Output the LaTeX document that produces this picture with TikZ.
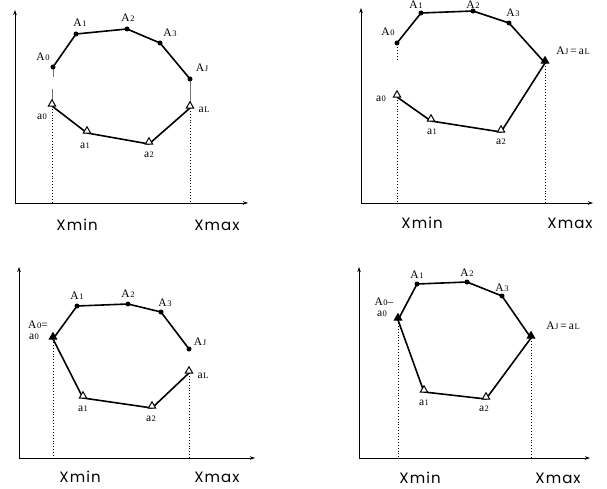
\documentclass[tikz,border=0pt]{standalone}
\usepackage{fontspec}
\setmainfont{Liberation Serif}
\newfontfamily\axfont[LetterSpace=7]{Poppins}
\usetikzlibrary{shapes.geometric,arrows.meta}
\newcommand\Lb[2]{#1\kern0.6pt{\fontsize{8.5}{9}\selectfont #2}}
\begin{document}
\begin{tikzpicture}[x=1pt,y=-1pt,
 axis/.style={line width=0.8pt,{Stealth[length=5pt,width=3.5pt]}-{Stealth[length=5pt,width=3.5pt]}},
 poly/.style={line width=1.6pt,line join=round},
 guide/.style={dotted,line width=0.9pt},
 faint/.style={line width=0.5pt,black!55},
 ptdot/.style={circle,fill=black,inner sep=0pt,minimum size=5pt},
 otri/.style={regular polygon,regular polygon sides=3,draw,line width=1pt,fill=white,inner sep=0pt,minimum size=8.5pt,yshift=2pt},
 ftri/.style={otri,fill=black},
 lab/.style={inner sep=0pt,text height=8pt,text depth=0pt,font=\fontsize{11.5}{13}\selectfont},
 axlab/.style={inner sep=0pt,font=\fontsize{15}{17}\selectfont\axfont}]
\useasboundingbox (0,0) rectangle (607,489);

% ---------------- panel 1 ----------------
\coordinate (o1) at (15,203);
\coordinate (y1) at (15,10);
\coordinate (x1) at (248,203);
\draw[axis] (y1) -- (o1) -- (x1);
\coordinate (P1A0) at (53,67);
\coordinate (P1A1) at (76,34);
\coordinate (P1A2) at (127,29);
\coordinate (P1A3) at (160,43);
\coordinate (P1AJ) at (190,79);
\coordinate (P1a0) at (52,106);
\coordinate (P1a1) at (87,133);
\coordinate (P1a2) at (149,144);
\coordinate (P1aL) at (190,108);
\draw[faint] (P1A0) -- ++(0,10) (P1a0) ++(0,-3) -- ++(0,-14);
\draw[faint] (P1AJ) -- (P1aL);
\draw[guide] (P1a0) -- (P1a0 |- o1);
\draw[guide] (P1aL) -- (P1aL |- o1);
\draw[poly] (P1A0) -- (P1A1) -- (P1A2) -- (P1A3) -- (P1AJ);
\draw[poly] (P1a0) -- (P1a1) -- (P1a2) -- (P1aL);
\foreach \n in {A0,A1,A2,A3,AJ} \node[ptdot] (M1\n) at (P1\n) {};
\foreach \n in {a0,a1,a2,aL} \node[otri] (M1\n) at (P1\n) {};
\node[lab] (L1A0) at (43,57) {\Lb{A}{0}};
\node[lab] (L1A1) at (80,23) {\Lb{A}{1}};
\node[lab] (L1A2) at (128,18) {\Lb{A}{2}};
\node[lab] (L1A3) at (170,33) {\Lb{A}{3}};
\node[lab] (L1AJ) at (202,68) {\Lb{A}{J}};
\node[lab] (L1a0) at (42,116) {\Lb{a}{0}};
\node[lab] (L1a1) at (85,145) {\Lb{a}{1}};
\node[lab] (L1a2) at (149,154) {\Lb{a}{2}};
\node[lab] (L1aL) at (204,109) {\Lb{a}{L}};
\node[axlab] (X1a) at (77,225) {Xmin};
\node[axlab] (X1b) at (217,225) {Xmax};

% ---------------- panel 2 ----------------
\coordinate (o2) at (361,203);
\coordinate (y2) at (361,8);
\coordinate (x2) at (593,203);
\draw[axis] (y2) -- (o2) -- (x2);
\coordinate (P2A0) at (397,43);
\coordinate (P2A1) at (421,13);
\coordinate (P2A2) at (473,11);
\coordinate (P2A3) at (509,23);
\coordinate (P2AJ) at (545,63);
\coordinate (P2a0) at (397,97);
\coordinate (P2a1) at (431,121);
\coordinate (P2a2) at (501,132);
\draw[guide] (P2A0) ++(0,4) -- ++(0,12);
\draw[guide] (P2a0) -- (P2a0 |- o2);
\draw[guide] (P2AJ) -- (P2AJ |- o2);
\draw[poly] (P2A0) -- (P2A1) -- (P2A2) -- (P2A3) -- (P2AJ);
\draw[poly] (P2a0) -- (P2a1) -- (P2a2) -- (P2AJ);
\foreach \n in {A0,A1,A2,A3} \node[ptdot] (M2\n) at (P2\n) {};
\foreach \n in {a0,a1,a2} \node[otri] (M2\n) at (P2\n) {};
\node[ftri] (M2AJ) at (P2AJ) {};
\node[lab] (L2A0) at (388,32) {\Lb{A}{0}};
\node[lab] (L2A1) at (416,4.5) {\Lb{A}{1}};
\node[lab] (L2A2) at (473,4.5) {\Lb{A}{2}};
\node[lab] (L2A3) at (513,13) {\Lb{A}{3}};
\node[lab] (L2AJ) at (573,51) {\Lb{A}{J}\,=\,\Lb{a}{L}};
\node[lab] (L2a0) at (381,98) {\Lb{a}{0}};
\node[lab] (L2a1) at (432,131) {\Lb{a}{1}};
\node[lab] (L2a2) at (501,141) {\Lb{a}{2}};
\node[axlab] (X2a) at (422,223) {Xmin};
\node[axlab] (X2b) at (570,223) {Xmax};

% ---------------- panel 3 ----------------
\coordinate (o3) at (19,458);
\coordinate (y3) at (19,267);
\coordinate (x3) at (255,458);
\draw[axis] (y3) -- (o3) -- (x3);
\coordinate (P3A0) at (53,339);
\coordinate (P3A1) at (77,306);
\coordinate (P3A2) at (128,304);
\coordinate (P3A3) at (161,312);
\coordinate (P3AJ) at (189,349);
\coordinate (P3a1) at (83,398);
\coordinate (P3a2) at (152,408);
\coordinate (P3aL) at (189,373);
\draw[guide] (P3A0) -- (P3A0 |- o3);
\draw[guide] (P3aL) -- (P3aL |- o3);
\draw[poly] (P3A0) -- (P3A1) -- (P3A2) -- (P3A3) -- (P3AJ);
\draw[poly] (P3A0) -- (P3a1) -- (P3a2) -- (P3aL);
\foreach \n in {A1,A2,A3,AJ} \node[ptdot] (M3\n) at (P3\n) {};
\foreach \n in {a1,a2,aL} \node[otri] (M3\n) at (P3\n) {};
\node[ftri] (M3A0) at (P3A0) {};
\node[lab] (L3A0) at (38,324) {\Lb{A}{0}=};
\node[lab] (L3a0) at (34,335) {\Lb{a}{0}};
\node[lab] (L3A1) at (77,295) {\Lb{A}{1}};
\node[lab] (L3A2) at (128,293) {\Lb{A}{2}};
\node[lab] (L3A3) at (165,302) {\Lb{A}{3}};
\node[lab] (L3AJ) at (200,341) {\Lb{A}{J}};
\node[lab] (L3aL) at (203,374) {\Lb{a}{L}};
\node[lab] (L3a1) at (83,407) {\Lb{a}{1}};
\node[lab] (L3a2) at (151,417) {\Lb{a}{2}};
\node[axlab] (X3a) at (80,477) {Xmin};
\node[axlab] (X3b) at (217,477) {Xmax};

% ---------------- panel 4 ----------------
\coordinate (o4) at (359,458);
\coordinate (y4) at (359,267);
\coordinate (x4) at (590,458);
\draw[axis] (y4) -- (o4) -- (x4);
\coordinate (P4A0) at (398,320);
\coordinate (P4A1) at (417,284);
\coordinate (P4A2) at (467,282);
\coordinate (P4A3) at (502,296);
\coordinate (P4AJ) at (531,338);
\coordinate (P4a1) at (424,392);
\coordinate (P4a2) at (486,399);
\draw[guide] (P4A0) -- (P4A0 |- o4);
\draw[guide] (P4AJ) -- (P4AJ |- o4);
\draw[poly] (P4A0) -- (P4A1) -- (P4A2) -- (P4A3) -- (P4AJ);
\draw[poly] (P4A0) -- (P4a1) -- (P4a2) -- (P4AJ);
\foreach \n in {A1,A2,A3} \node[ptdot] (M4\n) at (P4\n) {};
\foreach \n in {a1,a2} \node[otri] (M4\n) at (P4\n) {};
\node[ftri] (M4A0) at (P4A0) {};
\node[ftri] (M4AJ) at (P4AJ) {};
\node[lab] (L4A0) at (384,301) {\Lb{A}{0}--};
\node[lab] (L4a0) at (382,312) {\Lb{a}{0}};
\node[lab] (L4A1) at (417,274) {\Lb{A}{1}};
\node[lab] (L4A2) at (467,272) {\Lb{A}{2}};
\node[lab] (L4A3) at (502,287) {\Lb{A}{3}};
\node[lab] (L4AJ) at (563,325) {\Lb{A}{J}\,=\,\Lb{a}{L}};
\node[lab] (L4a1) at (424,401) {\Lb{a}{1}};
\node[lab] (L4a2) at (484,407) {\Lb{a}{2}};
\node[axlab] (X4a) at (420,478) {Xmin};
\node[axlab] (X4b) at (558,478) {Xmax};
\end{tikzpicture}
\end{document}
